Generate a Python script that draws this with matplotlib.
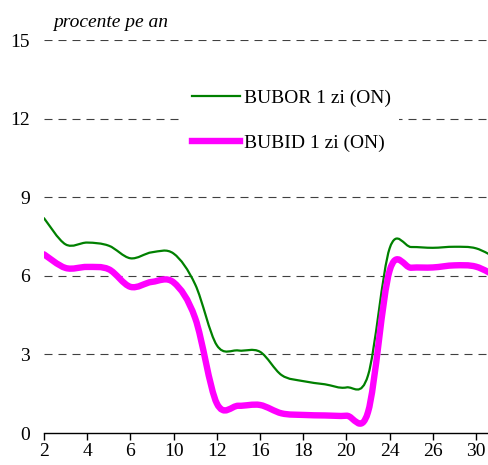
import numpy as np
import matplotlib
matplotlib.use('Agg')
import matplotlib.pyplot as plt
from matplotlib.path import Path
from matplotlib.patches import PathPatch
from matplotlib.lines import Line2D

plt.rcParams['font.family'] = ['Liberation Serif', 'DejaVu Serif']

# zilele lucratoare din luna
zile = [2, 3, 4, 5, 6, 9, 10, 11, 12, 13, 16, 17, 18, 19, 20, 23, 24, 25, 26, 27, 30, 31]
bubor = [8.2, 7.2, 7.27, 7.15, 6.67, 6.9, 6.85, 5.67, 3.35, 3.15, 3.1, 2.21, 1.98, 1.86, 1.74,
         2.2, 7.05, 7.1, 7.07, 7.11, 7.05, 6.65]
bubid = [6.82, 6.3, 6.34, 6.25, 5.58, 5.77, 5.75, 4.38, 1.13, 1.04, 1.07, 0.75, 0.69, 0.67, 0.66,
         0.8, 6.2, 6.31, 6.32, 6.4, 6.35, 5.95]
etichete_x = [str(z) for z in zile[::2]]
valori_y = [0, 3, 6, 9, 12, 15]


def curba_neteda(x, y):
    # bezier cubic prin puncte (ca linia netezita din Excel)
    x = np.asarray(x, float)
    y = np.asarray(y, float)
    xp = np.concatenate([[x[0]], x, [x[-1]]])
    yp = np.concatenate([[y[0]], y, [y[-1]]])
    verts = [(x[0], y[0])]
    codes = [Path.MOVETO]
    for i in range(len(x) - 1):
        c1 = (x[i] + (xp[i + 2] - xp[i]) / 6, y[i] + (yp[i + 2] - yp[i]) / 6)
        c2 = (x[i + 1] - (xp[i + 3] - xp[i + 1]) / 6, y[i + 1] - (yp[i + 3] - yp[i + 1]) / 6)
        verts += [c1, c2, (x[i + 1], y[i + 1])]
        codes += [Path.CURVE4] * 3
    return Path(verts, codes)


fig = plt.figure(figsize=(4.89, 4.65), dpi=100)
ax = fig.add_axes([0.09, 0.0688, 0.91, 0.845])

poz = np.arange(len(zile))
for serie, culoare, gros in [(bubor, '#008000', 1.6), (bubid, '#FF00FF', 4.6)]:
    patch = PathPatch(curba_neteda(poz, serie), facecolor='none', edgecolor=culoare,
                      lw=gros, capstyle='round', joinstyle='round', zorder=3)
    ax.add_patch(patch)

ax.set_xlim(0, 20.6)
ax.set_ylim(0, 15)
ax.set_xticks(poz[::2])
ax.set_xticklabels(etichete_x)
ax.set_yticks(valori_y)
ax.set_yticklabels([str(v) for v in valori_y])

for v in valori_y[1:]:
    ax.axhline(v, color='#404040', lw=0.8, ls=(0, (7.2, 5.4)), zorder=1)

for s in ['top', 'right', 'left']:
    ax.spines[s].set_visible(False)
ax.spines['bottom'].set_linewidth(1.0)
ax.tick_params(axis='x', length=5, width=1.0, direction='out', labelsize=14, pad=2.5)
ax.tick_params(axis='y', length=0, labelsize=14, pad=10)

ax.text(0.02, 1.046, 'procente pe an', transform=ax.transAxes, fontsize=14,
        fontstyle='italic', va='center', ha='left')

handles = [Line2D([], [], color='#008000', lw=1.6),
           Line2D([], [], color='#FF00FF', lw=4.6)]
leg = ax.legend(handles, ['BUBOR 1 zi (ON)', 'BUBID 1 zi (ON)'], loc='center',
                bbox_to_anchor=(0.556, 0.795), fontsize=14, frameon=True,
                handlelength=2.5, handletextpad=0.2, labelspacing=1.4,
                fancybox=False, borderpad=0.4)
leg.get_frame().set_edgecolor('none')
leg.get_frame().set_facecolor('white')
leg.get_frame().set_alpha(1.0)

fig.savefig('out.png', dpi=100)
